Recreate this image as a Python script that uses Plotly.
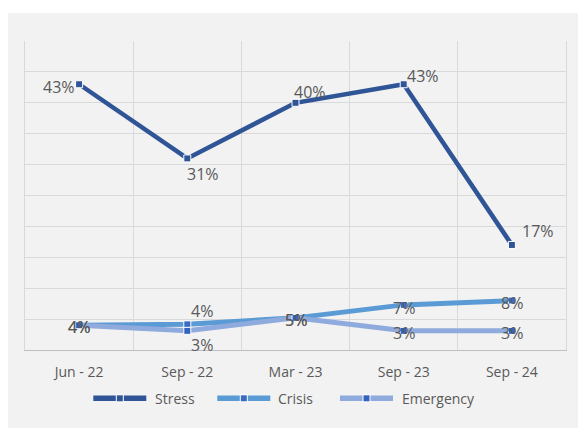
import plotly.graph_objects as go

# ---- data ----
categories = ["Jun - 22", "Sep - 22", "Mar - 23", "Sep - 23", "Sep - 24"]
stress = [43, 31, 40, 43, 17]
crisis = [4, 4.15, 5.2, 7.3, 8.0]
emergency = [4, 3.1, 5.2, 3.1, 3.1]
series_names = ["Stress", "Crisis", "Emergency"]

# ---- styling / layout constants (pixels) ----
W, H = 578, 428
L, R, T, B = 25, 566, 41, 350
PW, PH = R - L, B - T
GRAY = "#595959"
BG = "#F2F2F2"
GRID = "#D9D9D9"
line_colors = ["#2F5597", "#5B9BD5", "#8FAADC"]
marker_colors = ["#2F5597", "#3A6BC4", "#3462C0"]
line_widths = [4.5, 5, 5]
# data label offsets from the point (px, right / up)
label_offsets = [
    [(-19.6, -3), (15.3, -16), (14.2, 11.3), (19.7, 8.3), (26.5, 14.3)],
    [(0, -1.7), (14.3, 13.3), (0, -2), (0, -3.3), (0, -2)],
    [(0, -1.7), (14.3, -14.3), (0, -2), (0, -2.6), (0, -2.6)],
]


def px_x(px):
    return (px - L) / PW


def px_y(py):
    return (B - py) / PH


fig = go.Figure()
annotations = []
for name, vals, lc, mc, lw, offs in zip(series_names, [stress, crisis, emergency],
                                        line_colors, marker_colors, line_widths, label_offsets):
    fig.add_trace(go.Scatter(
        x=categories, y=vals, name=name,
        mode="lines+markers",
        line=dict(color=lc, width=lw),
        marker=dict(symbol="square", size=7, color=mc, line=dict(color="white", width=1)),
        cliponaxis=False,
        showlegend=False,
    ))
    for c, v, (dx, dy) in zip(categories, vals, offs):
        annotations.append(dict(
            xref="x", yref="y", x=c, y=v, text=f"{round(v)}%",
            showarrow=False, xanchor="center", yanchor="middle",
            xshift=dx, yshift=dy,
            font=dict(family="Open Sans", size=16, color=GRAY),
        ))

shapes = [
    # white strips outside the grey chart panel
    dict(type="rect", xref="paper", yref="paper", x0=px_x(-5), x1=px_x(W + 5),
         y0=px_y(13), y1=px_y(-5), fillcolor="white", line=dict(width=0), layer="above"),
    dict(type="rect", xref="paper", yref="paper", x0=px_x(-5), x1=px_x(8),
         y0=px_y(H + 5), y1=px_y(-5), fillcolor="white", line=dict(width=0), layer="above"),
]

# custom legend (Excel-style long line symbols)
legend_y = 398.3
legend_items = [(93.3, 152.7), (217.3, 276.3), (340, 400)]
for (x0, tx), name, lc, mc in zip(legend_items, series_names, line_colors, marker_colors):
    x1 = x0 + 53
    xm = (x0 + x1) / 2
    shapes.append(dict(type="line", xref="paper", yref="paper",
                       x0=px_x(x0), x1=px_x(x1), y0=px_y(legend_y), y1=px_y(legend_y),
                       line=dict(color=lc, width=5.5), layer="above"))
    shapes.append(dict(type="rect", xref="paper", yref="paper",
                       x0=px_x(xm - 4), x1=px_x(xm + 4),
                       y0=px_y(legend_y + 4), y1=px_y(legend_y - 4),
                       fillcolor="white", line=dict(width=0), layer="above"))
    shapes.append(dict(type="rect", xref="paper", yref="paper",
                       x0=px_x(xm - 3), x1=px_x(xm + 3),
                       y0=px_y(legend_y + 3), y1=px_y(legend_y - 3),
                       fillcolor=mc, line=dict(width=0), layer="above"))
    annotations.append(dict(xref="paper", yref="paper", x=px_x(tx), y=px_y(legend_y),
                            xanchor="left", yanchor="middle", showarrow=False, text=name,
                            font=dict(family="Open Sans", size=14, color=GRAY)))

fig.update_layout(
    template="none",
    width=W, height=H,
    margin=dict(l=L, r=W - R, t=T, b=H - B, pad=0),
    paper_bgcolor=BG, plot_bgcolor=BG,
    showlegend=False,
    shapes=shapes,
    annotations=annotations,
    xaxis=dict(
        type="category", range=[-0.5, 4.5], tickson="boundaries",
        showgrid=True, gridcolor=GRID, gridwidth=1,
        showline=True, linecolor="#BFBFBF", linewidth=1,
        ticks="", ticklabelstandoff=9,
        tickfont=dict(family="Open Sans", size=14, color=GRAY),
        automargin=False, fixedrange=True,
    ),
    yaxis=dict(
        range=[0, 50], dtick=5, showticklabels=False,
        showgrid=True, gridcolor=GRID, gridwidth=1, zeroline=False,
        showline=True, mirror=True, linecolor=GRID, linewidth=1,
        ticks="", automargin=False, fixedrange=True,
    ),
)

fig.write_html("out.html", config={"displayModeBar": False})
